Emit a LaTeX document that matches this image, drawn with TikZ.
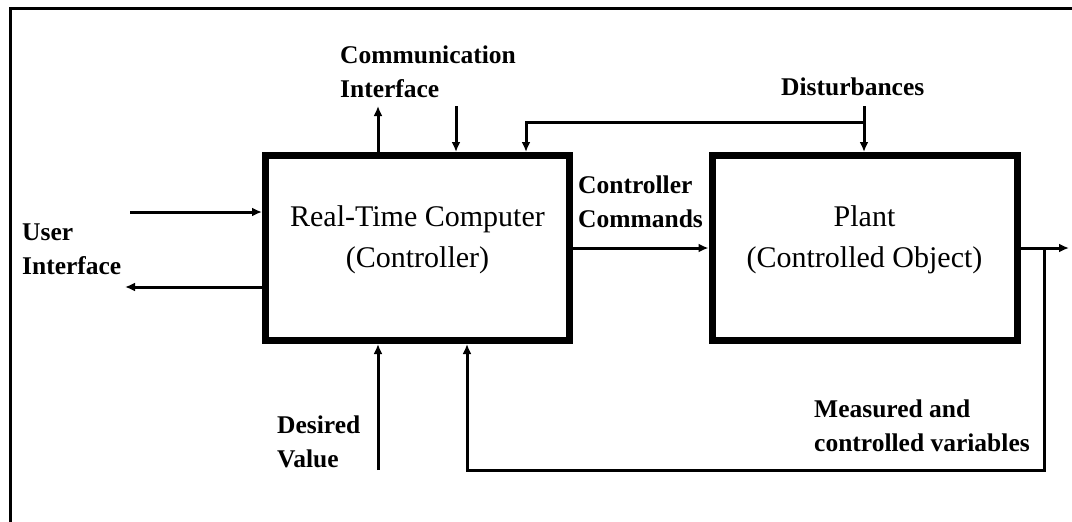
\documentclass[tikz,border=0pt]{standalone}
\usepackage{fontspec}
\setmainfont{Liberation Serif}
\usetikzlibrary{arrows.meta,calc}

\tikzset{
  block/.style={draw, line width=7pt, rectangle, inner sep=0pt},
  blocktext/.style={align=center, inner sep=0pt, font=\fontsize{30}{41}\selectfont},
  lbl/.style={align=left, inner sep=0pt, anchor=north west, font=\fontsize{25.5}{34}\selectfont\bfseries},
  arr/.style={line width=3pt, -{Latex[length=10pt,width=9pt]}},
  frame/.style={line width=3pt}
}

\begin{document}
\begin{tikzpicture}[x=1pt,y=-1pt]
  \useasboundingbox (0,0) rectangle (1072,522);

  % outer frame (only its left and top sides fall inside the page)
  \draw[frame] (10,540) -- (10,8) -- (1090,8);

  % the two blocks
  \node[block, minimum width=304pt, minimum height=185pt] (rtc) at (417.5,248) {};
  \node[block, minimum width=305pt, minimum height=185pt] (plant) at (864.5,248) {};
  \node[blocktext] (rtctext) at ([yshift=8pt]rtc.center) {Real-Time Computer\\(Controller)};
  \node[blocktext] (planttext) at ([yshift=8pt]plant.center) {Plant\\(Controlled Object)};

  % labels
  \node[lbl] (comm) at (340,46) {Communication\\Interface};
  \node[lbl] (dist) at (781,78) {Disturbances};
  \node[lbl] (cmd) at (578,176) {Controller\\Commands};
  \node[lbl] (user) at (22,224) {User\\Interface};
  \node[lbl] (desired) at (277,416) {Desired\\Value};
  \node[lbl] (meas) at (814,400) {Measured and\\controlled variables};

  % free ends of the connectors
  \coordinate (cup) at (378,106);
  \coordinate (cdown) at (456,106);
  \coordinate (dtop) at (864,106);
  \coordinate (dbar) at (864,122);
  \coordinate (dleft) at (526,122);
  \coordinate (uin) at (130,212);
  \coordinate (uout) at (125,287);
  \coordinate (out) at (1069,248);
  \coordinate (fbtop) at (1044,248);
  \coordinate (fbcorner) at (1044,470);
  \coordinate (fbleft) at (467,470);
  \coordinate (dv) at (378,470);

  % communication interface
  \draw[arr] (cup |- rtc.north) -- (cup);
  \draw[arr] (cdown) -- (cdown |- rtc.north);

  % disturbances
  \draw[arr] (dtop) -- (dtop |- plant.north);
  \draw[arr] (dbar) -- (dleft) -- (dleft |- rtc.north);

  % user interface
  \draw[arr] (uin) -- (uin -| rtc.west);
  \draw[arr] (uout -| rtc.west) -- (uout);

  % controller commands
  \draw[arr] (rtc.east) -- (plant.west);

  % plant output and feedback
  \draw[arr] (plant.east) -- (out);
  \draw[arr] (fbtop) -- (fbcorner) -- (fbleft) -- (fbleft |- rtc.south);

  % desired value
  \draw[arr] (dv) -- (dv |- rtc.south);
\end{tikzpicture}
\end{document}
